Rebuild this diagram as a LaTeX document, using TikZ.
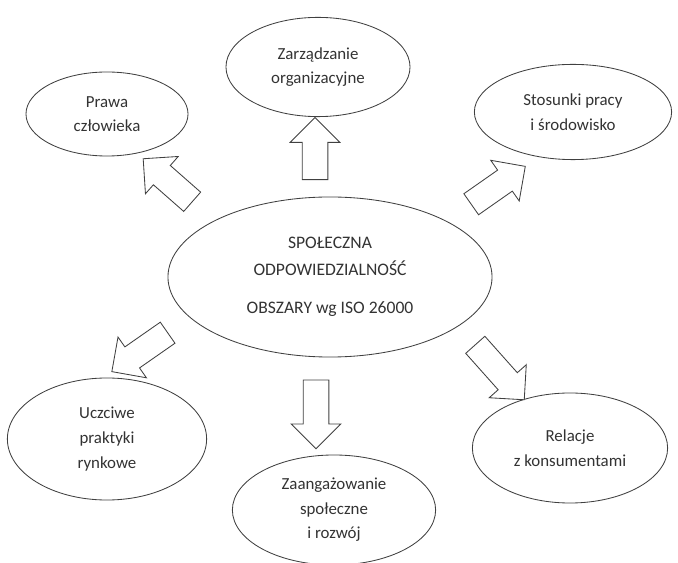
\documentclass[tikz,border=0pt]{standalone}
\usepackage{fontspec}
\setmainfont{Carlito}
\usepackage{xcolor}
\usepackage{tikz}
\usetikzlibrary{calc}
\usetikzlibrary{shapes,arrows,positioning}
\usetikzlibrary{shapes.geometric}
\usetikzlibrary{shapes.arrows}

\tikzset{
	obszar/.style={ellipse,draw=black!75,line width=0.6pt,fill=white,align=center,inner sep=0pt,text=black!80,font=\fontsize{12}{17.5}\selectfont},
	strzalka/.style={single arrow,draw=black!75,line width=0.6pt,fill=white,inner sep=0.31cm,single arrow head extend=0.3cm,single arrow tip angle=90}
}

\begin{document}
\begin{tikzpicture}[x=0.025cm,y=-0.025cm]
		\useasboundingbox (0,0) rectangle (678,563);
		\node[obszar,minimum width=8.1cm,minimum height=4cm,font=\fontsize{12.5}{19}\selectfont] (centrum) at (330,277) {SPOŁECZNA\\ODPOWIEDZIALNOŚĆ\\[8pt]OBSZARY wg ISO 26000};
		\node[obszar,minimum width=4.05cm,minimum height=2.1cm] (prawa) at (107,114) {Prawa\\człowieka};
		\node[obszar,minimum width=4.6cm,minimum height=2.48cm] (zarzadzanie) at (318,67) {Zarządzanie\\organizacyjne};
		\node[obszar,minimum width=4.93cm,minimum height=2.38cm] (stosunki) at (573,112) {Stosunki pracy\\i środowisko};
		\node[obszar,minimum width=4.98cm,minimum height=3.05cm] (uczciwe) at (107,439) {Uczciwe\\praktyki\\rynkowe};
		\node[obszar,minimum width=5.08cm,minimum height=2.75cm] (zaangazowanie) at (334,510) {Zaangażowanie\\społeczne\\i rozwój};
		\node[obszar,minimum width=4.88cm,minimum height=2.75cm] (relacje) at (570,448) {Relacje\\z konsumentami};
		\node[strzalka,minimum height=1.55cm,rotate=90] (s-zarzadzanie) at (315,155) {};
		\node[strzalka,minimum height=1.72cm,rotate=-90] (s-zaangazowanie) at (316,408) {};
		\node[strzalka,minimum height=1.63cm,rotate=138.7] (s-prawa) at (172.5,184.5) {};
		\node[strzalka,minimum height=1.65cm,rotate=35] (s-stosunki) at (493,189) {};
		\node[strzalka,minimum height=1.7cm,rotate=214.9] (s-uczciwe) at (145,348.5) {};
		\node[strzalka,minimum height=1.84cm,rotate=-48.3] (s-relacje) at (495.5,367.5) {};
	\end{tikzpicture}
\end{document}
